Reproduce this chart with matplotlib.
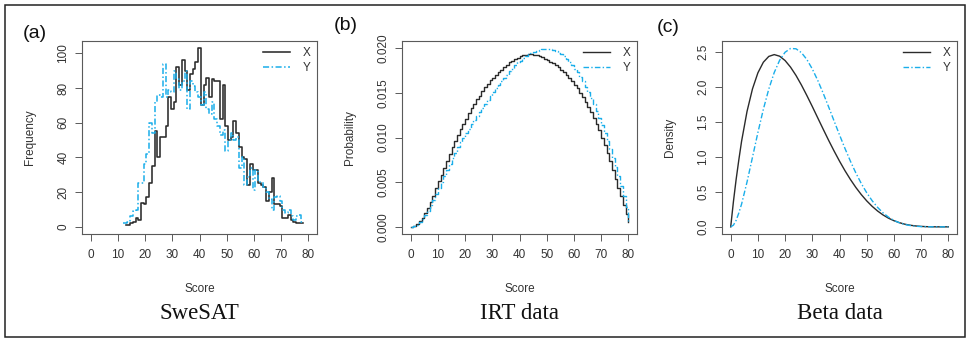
import matplotlib
matplotlib.use("Agg")
import matplotlib.pyplot as plt
from matplotlib.patches import Rectangle

plt.rcParams['font.family'] = ['Liberation Sans', 'DejaVu Sans']

# ---------------- data ----------------
# (a) SweSAT frequencies
swesat_x_scores = list(range(13, 79))
swesat_x_freq = [1, 1, 2, 3, 5, 4, 14, 13, 17, 25, 35, 55, 40, 52, 52, 58, 75, 68, 72, 92,
                 82, 96, 90, 79, 88, 91, 95, 103, 70, 82, 86, 75, 85, 84, 84, 62, 82, 58, 50, 52,
                 61, 54, 46, 40, 39, 24, 36, 33, 33, 25, 24, 23, 15, 20, 28, 13, 13, 12, 5, 5,
                 7, 4, 3, 2, 2, 2]
swesat_y_scores = list(range(12, 79))
swesat_y_freq = [2, 2, 3, 6, 9, 10, 25, 25, 36, 42, 60, 54, 72, 76, 75, 94, 75, 79, 78, 90,
                 85, 79, 84, 90, 68, 84, 81, 78, 75, 70, 78, 68, 65, 72, 62, 58, 53, 56, 44, 50,
                 54, 50, 52, 34, 40, 24, 29, 34, 21, 33, 26, 26, 23, 20, 16, 10, 17, 18, 15, 10,
                 8, 10, 6, 4, 6, 7, 3]

# (b) IRT probabilities
irt_scores = list(range(0, 81))
irt_x_prob = [0.0000, 0.0001, 0.0003, 0.0006, 0.0010, 0.0015, 0.0021, 0.0028, 0.0035, 0.0043,
              0.0051, 0.0058, 0.0066, 0.0074, 0.0082, 0.0089, 0.0096, 0.0103, 0.0109, 0.0115,
              0.0121, 0.0127, 0.0133, 0.0138, 0.0143, 0.0147, 0.0152, 0.0156, 0.0160, 0.0164,
              0.0167, 0.0170, 0.0173, 0.0176, 0.0179, 0.0181, 0.0184, 0.0186, 0.0188, 0.0189,
              0.0191, 0.0192, 0.0192, 0.0193, 0.0193, 0.0192, 0.0192, 0.0191, 0.0190, 0.0188,
              0.0187, 0.0185, 0.0183, 0.0181, 0.0179, 0.0176, 0.0173, 0.0170, 0.0167, 0.0163,
              0.0159, 0.0155, 0.0150, 0.0145, 0.0140, 0.0134, 0.0128, 0.0122, 0.0115, 0.0108,
              0.0100, 0.0092, 0.0083, 0.0074, 0.0064, 0.0054, 0.0044, 0.0034, 0.0024, 0.0014,
              0.0005]
irt_y_prob = [0.0000, 0.0001, 0.0002, 0.0005, 0.0009, 0.0013, 0.0018, 0.0024, 0.0030, 0.0037,
              0.0044, 0.0050, 0.0057, 0.0064, 0.0070, 0.0077, 0.0083, 0.0089, 0.0095, 0.0100,
              0.0105, 0.0110, 0.0115, 0.0120, 0.0124, 0.0129, 0.0133, 0.0138, 0.0142, 0.0146,
              0.0151, 0.0155, 0.0159, 0.0163, 0.0167, 0.0170, 0.0174, 0.0177, 0.0181, 0.0184,
              0.0186, 0.0189, 0.0191, 0.0193, 0.0195, 0.0196, 0.0197, 0.0198, 0.0199, 0.0199,
              0.0199, 0.0199, 0.0198, 0.0197, 0.0195, 0.0193, 0.0191, 0.0188, 0.0185, 0.0181,
              0.0177, 0.0173, 0.0168, 0.0163, 0.0157, 0.0151, 0.0144, 0.0137, 0.0130, 0.0122,
              0.0114, 0.0105, 0.0096, 0.0087, 0.0077, 0.0067, 0.0057, 0.0046, 0.0035, 0.0022,
              0.0006]

# (c) Beta densities
beta_scores = [0, 1, 2, 3, 4, 6, 8, 10, 12, 14, 16, 18, 20, 22, 24, 26, 28, 30, 32, 34, 36, 38,
               40, 42, 44, 46, 48, 50, 52, 54, 56, 58, 60, 62, 64, 66, 68, 70, 72, 74, 76, 78, 80]
beta_x_dens = [0.0, 0.36, 0.678, 0.96, 1.222, 1.647, 1.968, 2.198, 2.349, 2.432, 2.458, 2.435,
               2.373, 2.279, 2.161, 2.024, 1.874, 1.717, 1.555, 1.394, 1.235, 1.083, 0.938,
               0.802, 0.677, 0.563, 0.461, 0.371, 0.293, 0.226, 0.170, 0.124, 0.088, 0.060,
               0.038, 0.023, 0.013, 0.0064, 0.0027, 0.0008, 0.0002, 0.0, 0.0]
beta_y_dens = [0.0, 0.024, 0.093, 0.2, 0.325, 0.640, 0.992, 1.346, 1.677, 1.966, 2.202, 2.378,
               2.492, 2.545, 2.541, 2.486, 2.388, 2.253, 2.090, 1.907, 1.712, 1.512, 1.3125,
               1.120, 0.938, 0.770, 0.619, 0.487, 0.373, 0.278, 0.200, 0.139, 0.092, 0.058,
               0.034, 0.019, 0.0092, 0.0039, 0.0014, 0.0004, 0.0001, 0.0, 0.0]

x_ticks = [0, 10, 20, 30, 40, 50, 60, 70, 80]
panel_tags = ["(a)", "(b)", "(c)"]
panel_titles = ["SweSAT", "IRT data", "Beta data"]
y_labels = ["Frequency", "Probability", "Density"]
x_label = "Score"
series_names = ["X", "Y"]

# ---------------- style ----------------
W, H = 968, 339
fig = plt.figure(figsize=(W / 100, H / 100), dpi=100)
BLACK = '#2b2b2b'
BLUE = '#1aaeea'
SPINE = '#5a5a5a'
TXT = '#333333'
DASH = (0, (4.0, 1.6, 1.0, 1.6))
FS = 8.5

axes_left_px = [82, 402, 722]
ax_w_px, top_px, bot_px = 235, 41, 234

axes = []
for lp in axes_left_px:
    ax = fig.add_axes([lp / W, 1 - bot_px / H, ax_w_px / W, (bot_px - top_px) / H])
    axes.append(ax)

# panel a
ax = axes[0]
ax.step(swesat_x_scores, swesat_x_freq, where='mid', color=BLACK, lw=1.15, label=series_names[0])
ax.step(swesat_y_scores, swesat_y_freq, where='mid', color=BLUE, lw=1.1, ls=DASH, label=series_names[1])
ax.set_ylim(-4.12, 107.12)
ax.set_yticks([0, 20, 40, 60, 80, 100])

# panel b
ax = axes[1]
ax.step(irt_scores, irt_x_prob, where='post', color=BLACK, lw=1.0, label=series_names[0])
ax.step(irt_scores, irt_y_prob, where='post', color=BLUE, lw=1.0, ls=DASH, label=series_names[1])
ax.set_ylim(-0.0008, 0.0208)
ax.set_yticks([0.0, 0.005, 0.010, 0.015, 0.020])
ax.set_yticklabels(["0.000", "0.005", "0.010", "0.015", "0.020"])

# panel c
ax = axes[2]
ax.plot(beta_scores, beta_x_dens, color=BLACK, lw=1.0, label=series_names[0])
ax.plot(beta_scores, beta_y_dens, color=BLUE, lw=1.0, ls=DASH, label=series_names[1])
ax.set_ylim(-0.102, 2.652)
ax.set_yticks([0.0, 0.5, 1.0, 1.5, 2.0, 2.5])
ax.set_yticklabels(["0.0", "0.5", "1.0", "1.5", "2.0", "2.5"])

tag_pos = [(23, 33), (334, 26), (657, 28)]
for i, ax in enumerate(axes):
    ax.set_xlim(-3.2, 83.2)
    ax.set_xticks(x_ticks)
    for sp in ax.spines.values():
        sp.set_color(SPINE)
        sp.set_linewidth(0.8)
    ax.tick_params(direction='out', length=5, width=0.7, color=SPINE,
                   labelsize=FS, labelcolor=TXT)
    ax.tick_params(axis='x', pad=6)
    ax.tick_params(axis='y', pad=4)
    for lab in ax.get_yticklabels():
        lab.set_rotation(90)
        lab.set_va('center')
    ax.set_xlabel(x_label, fontsize=FS, color=TXT)
    ax.xaxis.set_label_coords(0.5, -0.254)
    ax.set_ylabel(y_labels[i], fontsize=FS, color=TXT)
    ax.yaxis.set_label_coords(-0.196, 0.5)
    ax.text(0.5, -0.41, panel_titles[i], transform=ax.transAxes, ha='center', va='center',
            fontsize=16.5, family=['Liberation Serif', 'DejaVu Serif'], color='#111111')
    leg = ax.legend(loc='upper right', frameon=False, fontsize=FS, handlelength=2.3,
                    handletextpad=1.1, labelspacing=0.25, borderaxespad=0.1,
                    bbox_to_anchor=(1.0, 1.0))
    for t in leg.get_texts():
        t.set_color(TXT)
    tx, ty = tag_pos[i]
    fig.text(tx / W, 1 - ty / H, panel_tags[i], ha='left', va='center', fontsize=14, color='#111111')

fig.patches.append(Rectangle((4.5 / W, 2.5 / H), (W - 8) / W, (H - 7) / H, transform=fig.transFigure,
                             fill=False, edgecolor='#222222', linewidth=1.1))

fig.savefig("out.png", dpi=100)
